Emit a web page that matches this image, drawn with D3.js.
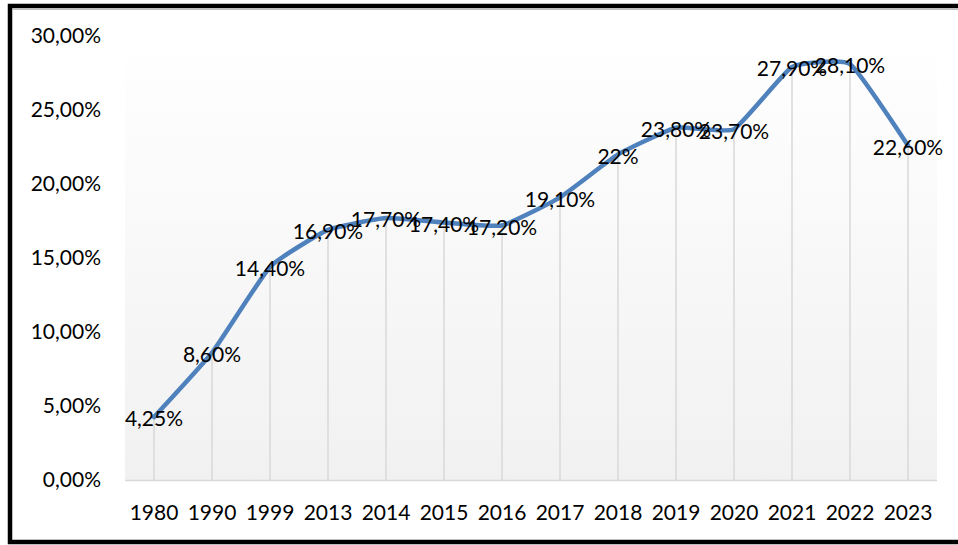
<!DOCTYPE html>
<html>
<head>
<meta charset="utf-8">
<script src="https://cdn.jsdelivr.net/npm/d3@7"></script>
<style>
    body { margin: 0; background: #ffffff; }
    svg { display: block; }
    text { font-family: Lato, "Open Sans", sans-serif; fill: #000000; }
</style>
</head>
<body>
<div id="app"></div>
<script>
const years = ["1980", "1990", "1999", "2013", "2014", "2015", "2016", "2017", "2018", "2019", "2020", "2021", "2022", "2023"];
const shares = [4.25, 8.6, 14.4, 16.9, 17.7, 17.4, 17.2, 19.1, 22, 23.8, 23.7, 27.9, 28.1, 22.6];
const pointLabels = ["4,25%", "8,60%", "14,40%", "16,90%", "17,70%", "17,40%", "17,20%", "19,10%", "22%", "23,80%", "23,70%", "27,90%", "28,10%", "22,60%"];
const yTicks = [0, 5, 10, 15, 20, 25, 30];
const yTickLabels = ["0,00%", "5,00%", "10,00%", "15,00%", "20,00%", "25,00%", "30,00%"];

const width = 958;
const height = 545;

const plotLeft = 125;
const plotRight = 937;
const plotTop = 36;
const plotBottom = 480;

const lineColor = "#4f81bd";
const dropColor = "#d9d9d9";

const svg = d3.select("#app")
    .append("svg")
    .attr("width", width)
    .attr("height", height);

const x = d3.scaleBand()
    .domain(years)
    .range([plotLeft, plotRight]);

const y = d3.scaleLinear()
    .domain([0, 30])
    .range([plotBottom, plotTop]);

//BACKGROUND GRADIENT
const grad = svg.append("defs")
    .append("linearGradient")
    .attr("id", "plotBg")
    .attr("x1", 0).attr("y1", 0)
    .attr("x2", 0).attr("y2", 1);
grad.append("stop").attr("offset", "0%").attr("stop-color", "#ffffff");
grad.append("stop").attr("offset", "100%").attr("stop-color", "#f1f1f1");

svg.append("rect")
    .attr("x", plotLeft)
    .attr("y", plotTop)
    .attr("width", plotRight - plotLeft)
    .attr("height", plotBottom - plotTop)
    .style("fill", "url(#plotBg)");

//AXIS LINE
svg.append("line")
    .attr("x1", plotLeft)
    .attr("x2", plotRight)
    .attr("y1", plotBottom + 0.5)
    .attr("y2", plotBottom + 0.5)
    .style("stroke", dropColor)
    .style("stroke-width", 1.5);

const cx = function (d, i) {
    return x(years[i]) + x.bandwidth() / 2;
};

//DROP LINES
svg.selectAll(".drop")
    .data(shares)
    .enter()
    .append("line")
    .attr("class", "drop")
    .attr("x1", cx)
    .attr("x2", cx)
    .attr("y1", function (d) { return y(d); })
    .attr("y2", plotBottom)
    .style("stroke", dropColor)
    .style("stroke-width", 1.5);

//LINE - slightly rounded joints, close to straight segments
const line = d3.line()
    .x(cx)
    .y(function (d) { return y(d); })
    .curve(d3.curveCardinal.tension(0.6));

svg.append("path")
    .datum(shares)
    .attr("d", line)
    .style("fill", "none")
    .style("stroke", lineColor)
    .style("stroke-width", 4.5)
    .style("stroke-linejoin", "round")
    .style("stroke-linecap", "round");

//Y AXIS LABELS
svg.selectAll(".ytick")
    .data(yTicks)
    .enter()
    .append("text")
    .attr("class", "ytick")
    .attr("x", 101)
    .attr("y", function (d) { return y(d); })
    .attr("dy", "0.35em")
    .attr("text-anchor", "end")
    .style("font-size", "21px")
    .text(function (d, i) { return yTickLabels[i]; });

//X AXIS LABELS
svg.selectAll(".xtick")
    .data(years)
    .enter()
    .append("text")
    .attr("class", "xtick")
    .attr("x", function (d) { return x(d) + x.bandwidth() / 2; })
    .attr("y", 520)
    .attr("text-anchor", "middle")
    .style("font-size", "21px")
    .text(function (d) { return d; });

//DATA LABELS
svg.selectAll(".plabel")
    .data(shares)
    .enter()
    .append("text")
    .attr("class", "plabel")
    .attr("x", cx)
    .attr("y", function (d) { return y(d) + 2; })
    .attr("dy", "0.35em")
    .attr("text-anchor", "middle")
    .style("font-size", "21px")
    .text(function (d, i) { return pointLabels[i]; });

//BORDER
svg.append("rect")
    .attr("x", 10)
    .attr("y", 6)
    .attr("width", width + 20)
    .attr("height", 536)
    .style("fill", "none")
    .style("stroke", "#000000")
    .style("stroke-width", 4.5);
svg.append("line")
    .attr("x1", 12)
    .attr("x2", width)
    .attr("y1", 9.5)
    .attr("y2", 9.5)
    .style("stroke", "#bfbfbf")
    .style("stroke-width", 1);
</script>
</body>
</html>
